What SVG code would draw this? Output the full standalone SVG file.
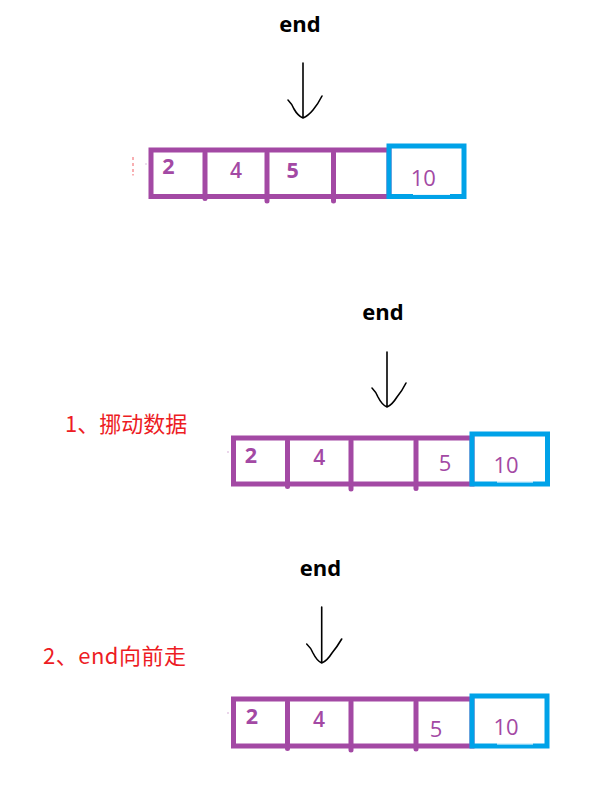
<svg xmlns="http://www.w3.org/2000/svg" width="594" height="792" viewBox="0 0 594 792">
<style>
.cell{fill:none;stroke:#A349A4;stroke-width:5}
.blue{fill:none;stroke:#00A2E8;stroke-width:5}
.div{stroke:#A349A4;stroke-width:5;stroke-linecap:round}
.num{font-family:"Open Sans","Noto Sans",sans-serif;fill:#A349A4;text-anchor:middle}
.b{font-weight:700;font-size:21.5px}
.sb{font-weight:600;font-size:21px}
.n{font-weight:400;font-size:22px}
.end{font-family:"Open Sans","Noto Sans",sans-serif;font-weight:700;font-size:22px;fill:#000;text-anchor:middle}
.step{font-family:"Noto Sans CJK SC","Noto Sans",sans-serif;font-size:22px;fill:#ED1C24}
.arr{fill:none;stroke:#000;stroke-width:1.6;stroke-linecap:round;stroke-linejoin:round}
</style>
<rect width="594" height="792" fill="#fff"/>

<g id="label-end-1"><text class="end" x="300" y="32">end</text></g>
<g id="label-end-2"><text class="end" x="383" y="320">end</text></g>
<g id="label-end-3"><text class="end" x="320.5" y="576">end</text></g>

<g id="step-1"><text class="step" x="65" y="431.5">1、挪动数据</text></g>
<g id="step-2"><text class="step" x="43" y="663.5" textLength="143">2、end向前走</text></g>

<g id="connectors">
  <path class="arr" d="M303,63 V118 M288,100 Q292,104 294,109 Q298,116 303,118 M322,96 Q318,104 313,110 Q308,116 303,118"/>
  <path class="arr" d="M387,352 V407 M372,388 Q376,392 378,397 Q382,405 387,407 M406,383 Q402,391 397,397 Q392,405 387,407"/>
  <path class="arr" d="M321.7,607 V663 M306.7,644 Q311,648 313,653 Q317,661 321.7,663 M341.7,639 Q337,647 332,653 Q327,661 321.7,663"/>
</g>

<g id="array-1">
  <path d="M133,157 V160 M133,163 V166 M133,169 V172 M133,174 V175.5" stroke="#ED1C24" stroke-width="1" opacity="0.7"/>
  <circle cx="146" cy="164" r="0.7" fill="#A349A4" opacity="0.5"/>
  <rect class="cell" x="151" y="150" width="238" height="46.5"/>
  <line class="div" x1="205" y1="153" x2="205" y2="198.5"/>
  <line class="div" x1="267" y1="153" x2="267" y2="201"/>
  <line class="div" x1="333.5" y1="153" x2="333.5" y2="201"/>
  <rect class="blue" x="389" y="146" width="75" height="50.5"/>
  <rect x="413" y="193.7" width="37" height="1.2" fill="#fff"/>
  <text class="num b" x="168.3" y="174.3">2</text>
  <text class="num sb" x="236" y="177.7">4</text>
  <text class="num b" x="292.7" y="177.7">5</text>
  <text class="num n" x="423.3" y="185.7">10</text>
</g>

<g id="array-2">
  <circle cx="228" cy="452" r="0.8" fill="#A349A4" opacity="0.5"/>
  <rect class="cell" x="233.5" y="438" width="238.5" height="46"/>
  <line class="div" x1="287.5" y1="441" x2="287.5" y2="486.5"/>
  <line class="div" x1="351" y1="441" x2="351" y2="489"/>
  <line class="div" x1="416" y1="441" x2="416" y2="488.5"/>
  <rect class="blue" x="472" y="434" width="75.5" height="50"/>
  <rect x="497" y="481.3" width="36" height="1.2" fill="#fff"/>
  <text class="num b" x="251" y="462.7">2</text>
  <text class="num sb" x="319.3" y="465">4</text>
  <text class="num n" x="445" y="470.7">5</text>
  <text class="num n" x="506" y="473.3">10</text>
</g>

<g id="array-3">
  <circle cx="228" cy="713" r="0.8" fill="#A349A4" opacity="0.5"/>
  <rect class="cell" x="233.5" y="699" width="238.5" height="47"/>
  <line class="div" x1="287.5" y1="702" x2="287.5" y2="748.5"/>
  <line class="div" x1="351" y1="702" x2="351" y2="750"/>
  <line class="div" x1="416" y1="702" x2="416" y2="749"/>
  <rect class="blue" x="472" y="696" width="75" height="50"/>
  <rect x="497" y="743.3" width="36" height="1.2" fill="#fff"/>
  <text class="num b" x="252" y="724.3">2</text>
  <text class="num sb" x="319" y="726.7">4</text>
  <text class="num n" x="436" y="737">5</text>
  <text class="num n" x="506" y="735">10</text>
</g>
</svg>
